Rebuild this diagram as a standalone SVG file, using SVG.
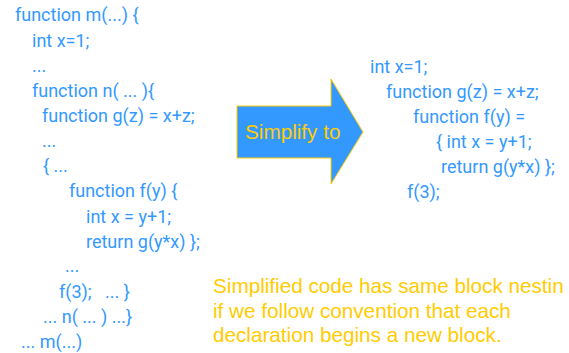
<svg xmlns="http://www.w3.org/2000/svg" width="569" height="353" viewBox="0 0 569 353">
<style>
.code{font-family:Roboto,"Liberation Sans",sans-serif;font-size:18px;fill:#3399ff;white-space:pre}
.note{font-family:"Liberation Sans",Arial,sans-serif;font-size:20.7px;fill:#ffcc00}
.arrow{fill:#3399ff;stroke:#ffcc00;stroke-width:1}
</style>
<rect width="569" height="353" fill="#ffffff"/>
<g id="original-code">
<text class="code" x="15" y="21">function m(...) {</text>
<text class="code" x="32" y="47">int x=1;</text>
<text class="code" x="32" y="72">...</text>
<text class="code" x="32" y="97">function n( ... ){</text>
<text class="code" x="42" y="122">function g(z) = x+z;</text>
<text class="code" x="42" y="147">...</text>
<text class="code" x="43" y="172">{ ...</text>
<text class="code" x="69" y="197">function f(y) {</text>
<text class="code" x="86" y="223">int x = y+1;</text>
<text class="code" x="86" y="248">return g(y*x) };</text>
<text class="code" x="65" y="272">...</text>
<text class="code" x="59" y="298">f(3);   ... }</text>
<text class="code" x="43" y="323">... n( ... ) ...}</text>
<text class="code" x="21" y="348">... m(...)</text>
</g>
<g id="simplify-arrow">
<polygon class="arrow" points="237,106 331,106 331,79 363,132 331,184 331,158 237,158"/>
<text class="note" x="245" y="139">Simplify to</text>
</g>
<g id="simplified-code">
<text class="code" x="370" y="73">int x=1;</text>
<text class="code" x="386" y="98">function g(z) = x+z;</text>
<text class="code" x="413" y="123">function f(y) =</text>
<text class="code" x="436" y="148">{ int x = y+1;</text>
<text class="code" x="441" y="173">return g(y*x) };</text>
<text class="code" x="407" y="198">f(3);</text>
</g>
<g id="note">
<text class="note" x="213" y="293">Simplified code has same block nestin</text>
<text class="note" x="213" y="318">if we follow convention that each</text>
<text class="note" x="213" y="342">declaration begins a new block.</text>
</g>
<g id="connectors"></g>
</svg>
